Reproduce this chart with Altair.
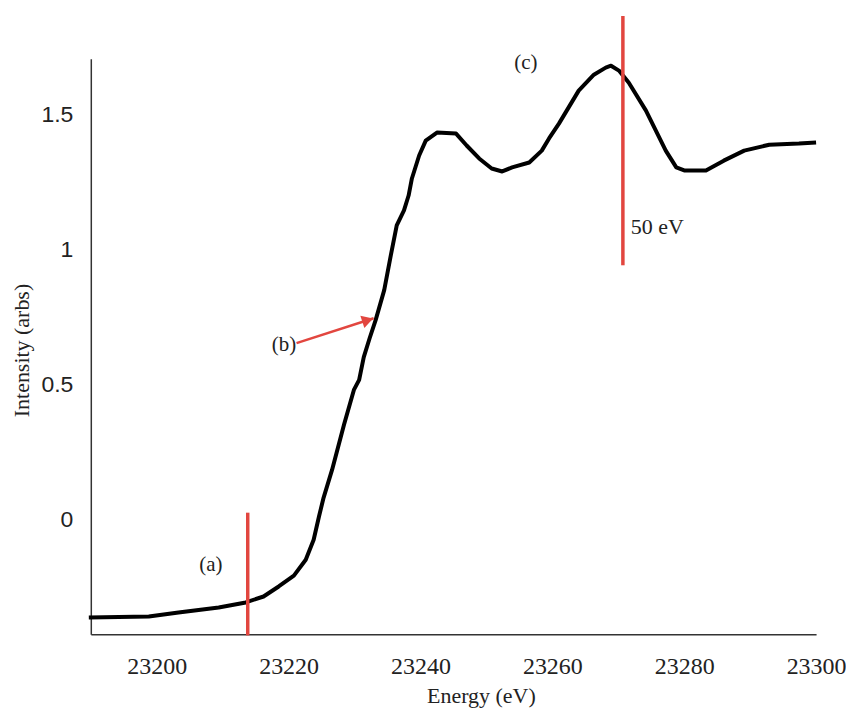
import altair as alt
import pandas as pd

# Curve
energy = [23189.7, 23198.8, 23203.3, 23209.4, 23213.5, 23216.2, 23218.5, 23220.8,
          23222.6, 23223.8, 23224.6, 23225.3, 23226.6, 23228.4, 23229.9, 23230.7,
          23231.4, 23232.3, 23233.2, 23234.5, 23235.5, 23236.4, 23237.5, 23238.2,
          23238.7, 23239.8, 23240.8, 23242.5, 23245.4, 23247.0, 23248.9, 23250.8,
          23252.4, 23253.9, 23256.5, 23258.4, 23259.5, 23261.0, 23264.0, 23266.3,
          23268.1, 23268.9, 23270.1, 23271.6, 23274.2, 23275.7, 23277.2, 23278.8,
          23280.0, 23283.3, 23286.0, 23289.1, 23292.9, 23297.4, 23300.0]
intensity = [-0.362, -0.358, -0.343, -0.325, -0.306, -0.284, -0.247, -0.207,
             -0.148, -0.074, 0.011, 0.081, 0.185, 0.351, 0.480, 0.517,
             0.601, 0.672, 0.738, 0.849, 0.978, 1.089, 1.144, 1.199,
             1.262, 1.347, 1.402, 1.432, 1.428, 1.384, 1.336, 1.299,
             1.288, 1.303, 1.321, 1.365, 1.410, 1.465, 1.587, 1.646,
             1.672, 1.679, 1.661, 1.616, 1.513, 1.439, 1.365, 1.303,
             1.292, 1.292, 1.328, 1.365, 1.387, 1.391, 1.395]

# Red vertical markers
marker_e = [23213.8, 23270.7]
marker_top = [0.026, 1.863]
marker_bottom = [-0.428, 0.941]

# Annotation labels
label_text = ["(a)", "(b)", "(c)"]
label_e = [23208.2, 23219.3, 23256.0]
label_v = [-0.166, 0.646, 1.69]

note_text = ["50 eV"]
note_e = [23271.9]
note_v = [1.081]

# Arrow for (b)
arrow_e = [23221.2]
arrow_v = [0.653]
arrow_e2 = [23232.9]
arrow_v2 = [0.745]
head_e = [23232.0]
head_v = [0.738]

x_ticks = [23200, 23220, 23240, 23260, 23280, 23300]
y_ticks = [0, 0.5, 1, 1.5]

x_dom = [23190, 23300]
y_dom = [-0.424, 1.705]

curve_df = pd.DataFrame({"E": energy, "I": intensity})
marker_df = pd.DataFrame({"E": marker_e, "top": marker_top, "bottom": marker_bottom})
label_df = pd.DataFrame({"E": label_e, "v": label_v, "t": label_text})
note_df = pd.DataFrame({"E": note_e, "v": note_v, "t": note_text})
arrow_df = pd.DataFrame({"E": arrow_e, "v": arrow_v, "E2": arrow_e2, "v2": arrow_v2})
head_df = pd.DataFrame({"E": head_e, "v": head_v})

xs = alt.Scale(domain=x_dom, nice=False, zero=False)
ys = alt.Scale(domain=y_dom, nice=False, zero=False)

x_axis = alt.Axis(
    values=x_ticks, format="d", ticks=False, grid=False,
    domainColor="#333333", domainWidth=1.5,
    labelFont="Liberation Sans Narrow", labelFontSize=24, labelColor="#222222",
    labelPadding=20, labelFlush=False, labelOverlap=False, labelBound=False,
    title="Energy (eV)", titleFont="Liberation Serif", titleFontSize=22,
    titleFontWeight="normal", titleColor="#222222",
    titleX=391, titleY=61, titleAlign="center", titleBaseline="middle",
)
y_axis = alt.Axis(
    values=y_ticks, format="~g", ticks=False, grid=False,
    domainColor="#333333", domainWidth=1.5,
    labelFont="Liberation Sans", labelFontSize=23, labelColor="#222222",
    labelPadding=18, labelFlush=False, labelOverlap=False,
    title="Intensity (arbs)", titleFont="Liberation Serif", titleFontSize=22,
    titleFontWeight="normal", titleColor="#222222",
    titleX=-69, titleY=292, titleAngle=-90, titleAlign="center",
    titleBaseline="middle",
)

curve = alt.Chart(curve_df).mark_line(color="black", strokeWidth=4, strokeJoin="round").encode(
    x=alt.X("E:Q", scale=xs, axis=x_axis),
    y=alt.Y("I:Q", scale=ys, axis=y_axis),
)

markers = alt.Chart(marker_df).mark_rule(color="#e2463f", strokeWidth=3.5).encode(
    x=alt.X("E:Q", scale=xs),
    y=alt.Y("top:Q", scale=ys),
    y2="bottom:Q",
)

labels = alt.Chart(label_df).mark_text(
    font="Liberation Serif", fontSize=21, color="#222222", align="center", baseline="middle"
).encode(
    x=alt.X("E:Q", scale=xs), y=alt.Y("v:Q", scale=ys), text="t:N"
)

note = alt.Chart(note_df).mark_text(
    font="Liberation Serif", fontSize=22, color="#222222", align="left", baseline="middle"
).encode(
    x=alt.X("E:Q", scale=xs), y=alt.Y("v:Q", scale=ys), text="t:N"
)

arrow = alt.Chart(arrow_df).mark_rule(color="#e2463f", strokeWidth=2.5).encode(
    x=alt.X("E:Q", scale=xs), y=alt.Y("v:Q", scale=ys), x2="E2:Q", y2="v2:Q"
)

head = alt.Chart(head_df).mark_point(
    shape="triangle-up", angle=72, filled=True, color="#e2463f", size=170, opacity=1
).encode(
    x=alt.X("E:Q", scale=xs), y=alt.Y("v:Q", scale=ys)
)

chart = alt.layer(curve, markers, arrow, head, labels, note).properties(
    width=727, height=577,
    autosize=alt.AutoSizeParams(type="none"),
    padding={"left": 83, "top": 50, "right": 30, "bottom": 75},
    background="white",
).configure_view(strokeWidth=0)

chart.save("out.html", embed_options={"renderer": "svg", "actions": False})
